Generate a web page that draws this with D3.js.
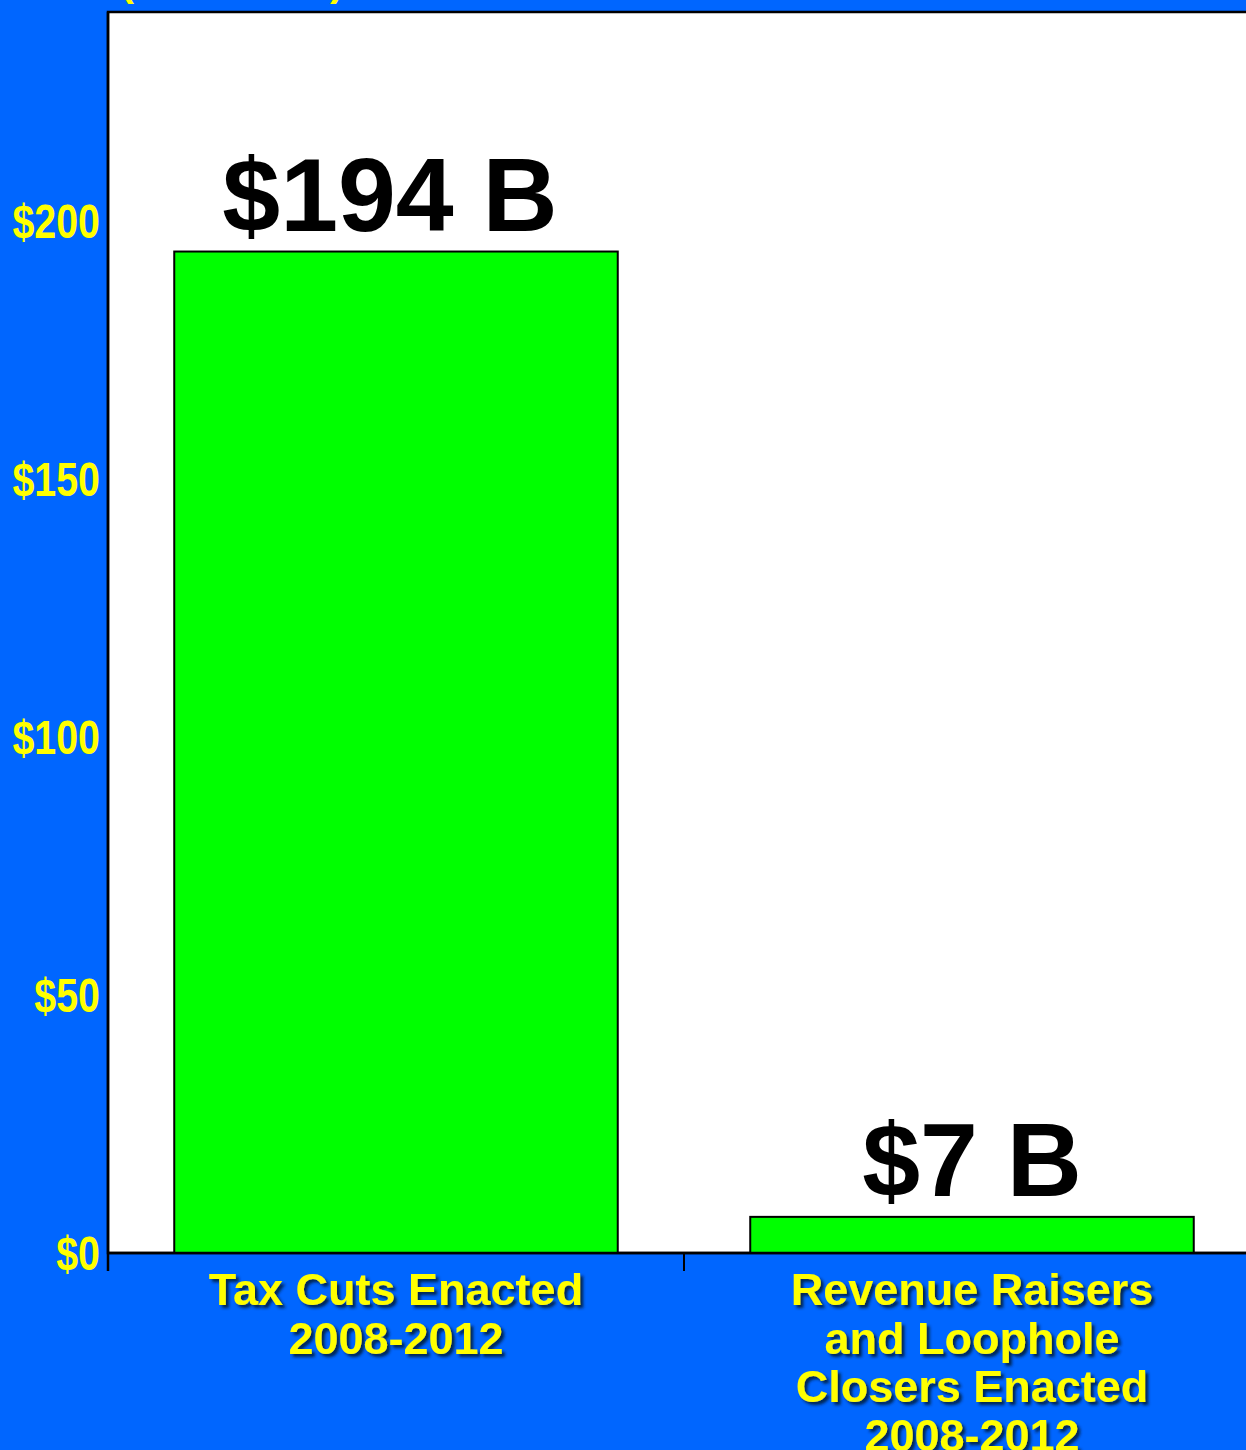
<!DOCTYPE html>
<html>
<head>
<meta charset="utf-8">
<script src="https://cdn.jsdelivr.net/npm/d3@7"></script>
<style>
  html, body { margin: 0; padding: 0; background: #0066ff; overflow: hidden; }
  svg { display: block; }
</style>
</head>
<body>
<svg id="chart" width="1246" height="1450"></svg>
<script>
// data
const categories = [
  ["Tax Cuts Enacted", "2008-2012"],
  ["Revenue Raisers", "and Loophole", "Closers Enacted", "2008-2012"]
];
const values = [194, 7];
const valueLabels = ["$194 B", "$7 B"];
const yTicks = [0, 50, 100, 150, 200];
const unitLabel = "(in billions)";

const svg = d3.select("#chart");
const W = 1246, H = 1450;

// plot box (right edge runs off the page like in the reference)
const plotLeft = 108, plotTop = 12, plotBottom = 1253, plotRight = 1260;

svg.append("rect").attr("width", W).attr("height", H).attr("fill", "#0066ff");

// shadow for the category labels
const defs = svg.append("defs");
const f = defs.append("filter").attr("id", "shadow")
  .attr("x", "-10%").attr("y", "-20%").attr("width", "130%").attr("height", "150%");
f.append("feDropShadow").attr("dx", 3).attr("dy", 3).attr("stdDeviation", 1.6)
  .attr("flood-color", "#001a40").attr("flood-opacity", 0.9);

const x = d3.scaleBand()
  .domain(d3.range(values.length))
  .range([plotLeft, plotRight])
  .paddingInner(0.23)
  .paddingOuter(0.115);

const y = d3.scaleLinear().domain([0, 240.4]).range([plotBottom, plotTop]);

// white plot area
svg.append("rect")
  .attr("x", plotLeft).attr("y", plotTop)
  .attr("width", plotRight - plotLeft).attr("height", plotBottom - plotTop)
  .attr("fill", "#ffffff")
  .attr("stroke", "#000").attr("stroke-width", 2.5);

// unit label, mostly above the page edge as in the reference
svg.append("text")
  .attr("x", 120).attr("y", -5)
  .attr("font-family", "Liberation Sans, Arial, sans-serif")
  .attr("font-weight", "bold").attr("font-size", 42)
  .attr("fill", "#ffff00")
  .text(unitLabel);

// bars
svg.selectAll("rect.bar")
  .data(values)
  .join("rect")
  .attr("class", "bar")
  .attr("x", (d, i) => x(i))
  .attr("y", d => y(d))
  .attr("width", x.bandwidth())
  .attr("height", d => y(0) - y(d))
  .attr("fill", "#00ff00")
  .attr("stroke", "#000").attr("stroke-width", 2);

// value labels
svg.selectAll("text.val")
  .data(values)
  .join("text")
  .attr("class", "val")
  .attr("x", (d, i) => x(i) + x.bandwidth() / 2 - (i === 0 ? 6 : 0))
  .attr("y", d => y(d) - 21)
  .attr("text-anchor", "middle")
  .attr("font-family", "Liberation Sans, Arial, sans-serif")
  .attr("font-weight", "bold").attr("font-size", 104)
  .attr("fill", "#000")
  .text((d, i) => valueLabels[i]);

// y axis (labels only, squeezed to look like a narrow face)
const yAxis = svg.append("g")
  .attr("transform", `translate(${plotLeft},0)`)
  .call(d3.axisLeft(y).tickValues(yTicks).tickSize(0).tickFormat(d => "$" + d));
yAxis.select(".domain").remove();
yAxis.selectAll("text")
  .attr("x", 0)
  .attr("transform", "translate(-8,0) scale(0.82,1)")
  .attr("font-family", "Liberation Sans, Arial, sans-serif")
  .attr("font-weight", "bold").attr("font-size", 48)
  .attr("fill", "#ffff00")
  .attr("dy", "0.35em");

// axis lines
svg.append("line")
  .attr("x1", plotLeft).attr("x2", plotLeft).attr("y1", plotTop).attr("y2", plotBottom + 18)
  .attr("stroke", "#000").attr("stroke-width", 2.5);
svg.append("line")
  .attr("x1", plotLeft).attr("x2", plotRight).attr("y1", plotBottom).attr("y2", plotBottom)
  .attr("stroke", "#000").attr("stroke-width", 2.5);

// category boundary ticks
const bounds = d3.range(values.length + 1).map(i => plotLeft + i * x.step());
svg.selectAll("line.tick")
  .data(bounds)
  .join("line")
  .attr("class", "tick")
  .attr("x1", d => d).attr("x2", d => d)
  .attr("y1", plotBottom).attr("y2", plotBottom + 18)
  .attr("stroke", "#000").attr("stroke-width", 2);

// category labels
const cat = svg.selectAll("text.cat")
  .data(categories)
  .join("text")
  .attr("class", "cat")
  .attr("text-anchor", "middle")
  .attr("font-family", "Liberation Sans, Arial, sans-serif")
  .attr("font-weight", "bold").attr("font-size", 45)
  .attr("fill", "#ffff00")
  .attr("filter", "url(#shadow)");
cat.selectAll("tspan")
  .data((d, i) => d.map(t => ({ t, i })))
  .join("tspan")
  .attr("x", d => x(d.i) + x.bandwidth() / 2)
  .attr("y", (d, j) => 1305 + j * 48.5)
  .text(d => d.t);
</script>
</body>
</html>
